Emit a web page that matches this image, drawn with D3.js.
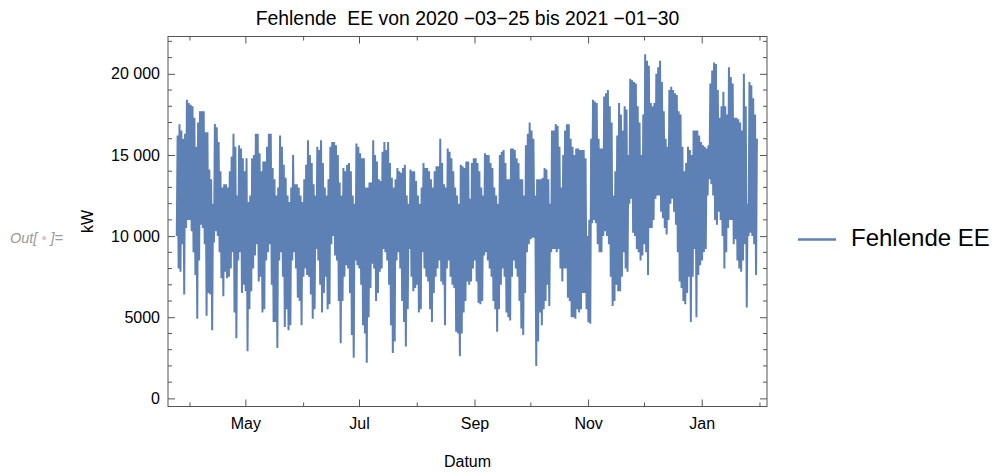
<!DOCTYPE html>
<html>
<head>
<meta charset="utf-8">
<script src="https://cdn.jsdelivr.net/npm/d3@7"></script>
<style>
  body { margin: 0; background: #fff; }
  text { font-family: "Liberation Sans", Arial, sans-serif; }
</style>
</head>
<body>
<div id="container"></div>
<script>
/* DATA (kW, one daily high and one daily low from 2020-03-25 to 2021-01-30) */
const startDate = Date.UTC(2020, 2, 25);

const dailyHigh = [
  16200,16900,16500,16000,16300,18400,18200,18100,18000,17300,15500,17000,17700,17700,17700,16400,16400,14100,13500,12000,
  16900,16700,15800,14000,13000,13200,13200,13000,14000,14900,16300,15500,12500,15600,15400,14800,14000,
  14800,12100,12500,14800,15000,16300,16300,15100,14000,14600,14600,15500,16300,16300,14200,13500,12500,13000,16200,15500,
  14400,13600,12500,12100,13000,15000,13200,13200,13000,12500,12100,13500,14400,15900,15000,14500,13200,12500,15500,15300,
  15900,14500,13000,12500,13500,15500,15800,15800,15600,15000,13300,12500,14200,14000,14400,14500,14000,12500,12000,15700,
  15500,15100,14800,14800,13000,13000,13300,13300,15900,15000,14600,13500,13400,15200,15800,15300,15800,14500,13600,13000,
  13500,14200,14000,13900,14200,14400,12500,12000,14100,14000,14000,13400,12500,12000,13000,14500,14200,14200,14000,13500,
  13000,14000,14300,14300,16000,14500,13200,13000,15400,15200,14800,14000,13000,12500,12000,14400,14300,14200,14600,14600,12300,
  14500,14800,14800,14500,14000,13000,12500,15100,15000,15000,14500,14200,13000,12500,12000,15000,15200,15300,14500,13500,
  13500,15400,15400,15300,14800,14500,13500,13500,12500,15600,16300,17000,16500,16000,12500,13500,13500,13500,13600,14200,
  14100,13500,12000,16500,16500,16900,16800,15500,13000,15000,16500,16900,16900,16000,15500,15000,15400,15400,15300,15300,
  15300,14800,10000,11000,16000,18400,18300,18200,16000,15400,15400,18600,18800,19000,18000,17000,12500,14000,16200,18200,
  17500,16500,18000,17800,15000,19700,19600,19500,19400,18000,17000,15000,17500,21200,20800,20500,18200,18000,18200,20000,
  20400,20800,19500,17700,16000,15500,19000,19200,19000,18800,18700,17700,17500,15500,14000,14500,15500,15300,15000,16500,16500,
  16500,16200,15800,15600,15500,15400,15600,19400,20200,20700,20600,19000,17300,18000,18900,18000,17500,20400,19800,19400,
  17300,17300,17200,17000,16500,20000,18000,12000,19500,19300,18500,17500,16000
];

const dailyLow = [
  10000,8000,7800,9500,6400,10500,11000,11000,10300,9000,7600,4900,8500,10700,10500,9500,5100,6500,6400,4200,
  9600,10300,10000,9000,7400,6300,7800,7400,7500,8000,9000,5300,3700,8500,9000,6500,7000,
  6600,2900,5500,6600,8000,8800,9500,7200,7500,5300,5500,8500,9000,9500,7000,4700,4700,3100,8500,9000,
  7500,4400,5500,4200,4500,8500,9000,8000,6200,6000,4500,7500,8000,7600,7500,6400,4900,5500,9200,8500,
  7000,5300,6500,7500,5500,5800,9500,10000,8800,8500,6000,3400,6000,7500,8200,8000,6500,3900,2500,8500,
  8200,8000,7000,4500,4000,2200,5000,6800,8300,8000,6000,6500,7800,8000,9200,9000,8500,7000,4500,2800,
  3500,8500,9000,8000,6000,4700,3200,5500,9200,7500,6600,6800,7000,5300,5500,9000,8000,7500,7200,5500,
  4700,6500,7500,8000,8500,7200,7000,4500,8000,8500,7500,7000,6800,4100,4000,2600,4000,5300,6000,7200,7000,
  7200,8000,8500,7200,5900,5800,6000,8800,9000,8500,8000,7500,6000,5500,4100,5500,7000,8000,7500,5300,
  5000,4800,7500,8500,8000,7500,6000,4300,3900,6500,9000,9500,9800,9900,9900,2000,3500,5300,4500,5500,
  6000,7000,5700,9000,9200,9200,9000,9200,8000,7200,8000,8000,6200,6000,5000,5000,4900,5500,5300,5500,
  6500,6500,5500,4700,4600,10800,11000,10800,9500,9000,9000,10000,10300,10000,9500,7500,5700,6000,7000,6600,
  6600,7500,9000,8000,7800,12000,12300,10200,10000,9200,9000,8500,8800,9500,9000,7600,10500,10500,11000,12300,
  12500,12500,11500,11100,10500,10100,11000,12000,12300,11500,10700,9000,7200,6800,6000,5800,6500,7500,4700,7500,9200,
  5000,7600,8200,8500,9000,9200,12500,13500,13200,12500,11000,10700,11500,11000,10000,8000,9000,10500,11000,11000,
  9500,9800,8500,8000,7800,8500,9500,5600,10000,10200,10000,9500,7600
];

const yTicks = [0, 5000, 10000, 15000, 20000];
const yTickLabels = ["0", "5000", "10 000", "15 000", "20 000"];
const xTickDates = ["2020-04-01","2020-05-01","2020-06-01","2020-07-01","2020-08-01","2020-09-01",
                    "2020-10-01","2020-11-01","2020-12-01","2021-01-01","2021-02-01"];
const xTickLabels = ["", "May", "", "Jul", "", "Sep", "", "Nov", "", "Jan", ""];

const seriesName = "Fehlende EE";
const titleText = "Fehlende  EE von 2020 \u221203\u221225 bis 2021 \u221201\u221230";

/* LAYOUT */
const width = 995, height = 472;
const frame = { left: 168, right: 767, top: 36.5, bottom: 406.5 };
const lineColor = "#5E81B5";
const frameColor = "#555";
const DAY = 86400000;

// two points per day: low in the early morning, high in the afternoon
const points = [];
dailyHigh.forEach((hi, i) => {
  const day = startDate + i * DAY;
  points.push({ date: new Date(day + 4 * 3600000), value: dailyLow[i] });
  points.push({ date: new Date(day + 15 * 3600000), value: hi });
});

const svg = d3.select("#container")
  .append("svg")
  .attr("width", width)
  .attr("height", height);

const xScale = d3.scaleUtc()
  .domain([new Date(Date.UTC(2020, 2, 20, 11)), new Date(Date.UTC(2021, 1, 5, 1))])
  .range([frame.left, frame.right]);

const yScale = d3.scaleLinear()
  .domain([-500, 22300])
  .range([frame.bottom, frame.top]);

// series
const line = d3.line()
  .x(d => xScale(d.date))
  .y(d => yScale(d.value));

svg.append("path")
  .datum(points)
  .attr("fill", "none")
  .attr("stroke", lineColor)
  .attr("stroke-width", 2)
  .attr("stroke-linejoin", "bevel")
  .attr("d", line);

// frame
svg.append("rect")
  .attr("x", frame.left)
  .attr("y", frame.top)
  .attr("width", frame.right - frame.left)
  .attr("height", frame.bottom - frame.top)
  .attr("fill", "none")
  .attr("stroke", frameColor)
  .attr("stroke-width", 1);

// x ticks (major with labels, minor without) on bottom and top
const xDates = xTickDates.map(s => new Date(s + "T00:00:00Z"));
const isMajorX = (d, i) => xTickLabels[i] !== "";

const xBottom = svg.append("g")
  .attr("transform", `translate(0,${frame.bottom})`)
  .call(d3.axisBottom(xScale)
    .tickValues(xDates)
    .tickFormat((d, i) => xTickLabels[i])
    .tickSizeInner(-7)
    .tickSizeOuter(0)
    .tickPadding(11));
xBottom.select(".domain").remove();
xBottom.selectAll(".tick line")
  .attr("y2", (d, i) => isMajorX(d, i) ? -7 : -4)
  .attr("stroke", frameColor);
xBottom.selectAll(".tick text")
  .attr("font-size", 16)
  .attr("fill", "#000")
  .style("font-family", "'Liberation Sans', Arial, sans-serif");

const xTop = svg.append("g")
  .attr("transform", `translate(0,${frame.top})`)
  .call(d3.axisTop(xScale)
    .tickValues(xDates)
    .tickFormat("")
    .tickSizeInner(-7)
    .tickSizeOuter(0));
xTop.select(".domain").remove();
xTop.selectAll(".tick line")
  .attr("y2", (d, i) => isMajorX(d, i) ? 7 : 4)
  .attr("stroke", frameColor);

// y ticks
const yMinor = d3.range(0, 22001, 1000).filter(v => v % 5000 !== 0);

const yLeft = svg.append("g")
  .attr("transform", `translate(${frame.left},0)`)
  .call(d3.axisLeft(yScale)
    .tickValues(yTicks)
    .tickFormat((d, i) => yTickLabels[i])
    .tickSizeInner(-7)
    .tickSizeOuter(0)
    .tickPadding(8));
yLeft.select(".domain").remove();
yLeft.selectAll(".tick line").attr("stroke", frameColor);
yLeft.selectAll(".tick text")
  .attr("font-size", 16)
  .attr("fill", "#000")
  .style("font-family", "'Liberation Sans', Arial, sans-serif");

const yRight = svg.append("g")
  .attr("transform", `translate(${frame.right},0)`)
  .call(d3.axisRight(yScale)
    .tickValues(yTicks)
    .tickFormat("")
    .tickSizeInner(-7)
    .tickSizeOuter(0));
yRight.select(".domain").remove();
yRight.selectAll(".tick line").attr("stroke", frameColor);

// minor y ticks both sides
svg.append("g")
  .selectAll("line")
  .data(yMinor)
  .join("line")
  .attr("x1", frame.left).attr("x2", frame.left + 4)
  .attr("y1", d => yScale(d)).attr("y2", d => yScale(d))
  .attr("stroke", frameColor);
svg.append("g")
  .selectAll("line")
  .data(yMinor)
  .join("line")
  .attr("x1", frame.right).attr("x2", frame.right - 4)
  .attr("y1", d => yScale(d)).attr("y2", d => yScale(d))
  .attr("stroke", frameColor);

// title and axis labels
svg.append("text")
  .attr("x", (frame.left + frame.right) / 2)
  .attr("y", 25)
  .attr("text-anchor", "middle")
  .attr("font-size", 19.4)
  .style("white-space", "pre")
  .text(titleText);

svg.append("text")
  .attr("x", (frame.left + frame.right) / 2)
  .attr("y", 467)
  .attr("text-anchor", "middle")
  .attr("font-size", 16)
  .text("Datum");

svg.append("text")
  .attr("transform", "translate(93,221.5) rotate(-90)")
  .attr("text-anchor", "middle")
  .attr("font-size", 16)
  .text("kW");

// notebook output label
const outLabel = svg.append("text")
  .attr("x", 10)
  .attr("y", 243)
  .attr("font-size", 14.5)
  .attr("font-style", "italic")
  .attr("fill", "#999");
outLabel.append("tspan").text("Out[ ");
outLabel.append("tspan").attr("fill", "#ccc").text("•");
outLabel.append("tspan").text(" ]=");

// legend
svg.append("line")
  .attr("x1", 798).attr("x2", 836)
  .attr("y1", 239.5).attr("y2", 239.5)
  .attr("stroke", lineColor)
  .attr("stroke-width", 2.5);

svg.append("text")
  .attr("x", 851)
  .attr("y", 246)
  .attr("font-size", 24)
  .text(seriesName);
</script>
</body>
</html>
